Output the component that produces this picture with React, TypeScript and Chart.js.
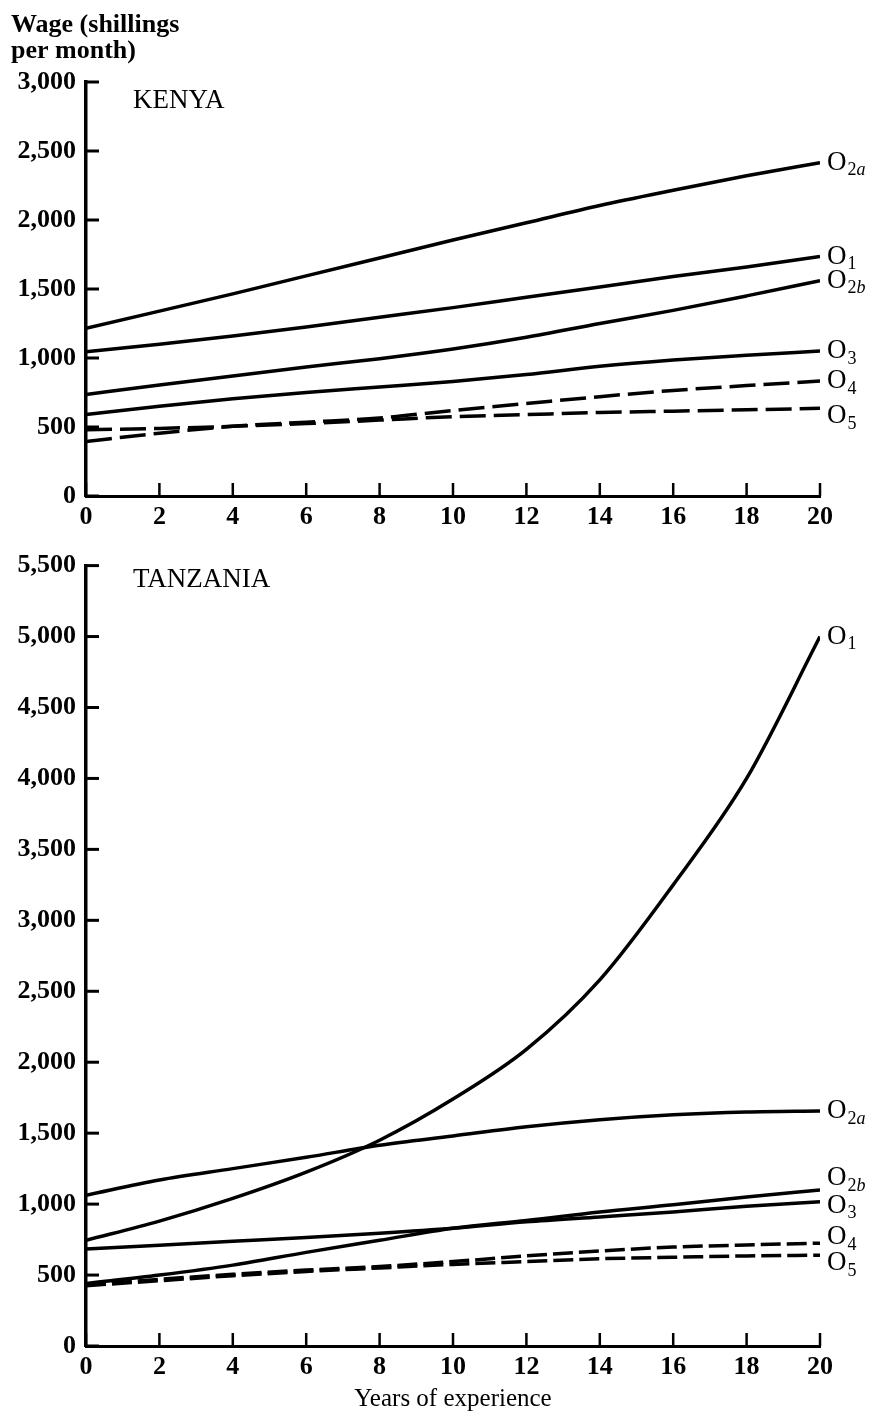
import React, { useEffect, useRef } from 'react';
import { Chart, registerables } from 'chart.js';

Chart.register(...registerables);

// ---------- data ----------
const years = [0, 2, 4, 6, 8, 10, 12, 14, 16, 18, 20];
const xTickValues = [0, 2, 4, 6, 8, 10, 12, 14, 16, 18, 20];

const kenyaYTicks = [0, 500, 1000, 1500, 2000, 2500, 3000];
const tanzaniaYTicks = [0, 500, 1000, 1500, 2000, 2500, 3000, 3500, 4000, 4500, 5000, 5500];

// Kenya (shillings per month)
const kenyaO2a = [1215, 1340, 1465, 1595, 1725, 1855, 1980, 2105, 2215, 2320, 2415];
const kenyaO1 = [1045, 1100, 1160, 1225, 1295, 1365, 1440, 1515, 1590, 1660, 1735];
const kenyaO2b = [735, 805, 870, 935, 995, 1065, 1150, 1250, 1345, 1450, 1560];
const kenyaO3 = [590, 650, 705, 750, 790, 830, 880, 940, 985, 1020, 1050];
const kenyaO4 = [395, 455, 505, 535, 565, 620, 670, 720, 765, 800, 833];
const kenyaO5 = [480, 490, 505, 525, 550, 575, 590, 605, 615, 625, 635];

// Tanzania (shillings per month)
const tanzaniaO1 = [745, 880, 1040, 1225, 1450, 1740, 2090, 2580, 3250, 4000, 5000];
const tanzaniaO2a = [1063, 1170, 1250, 1330, 1415, 1480, 1545, 1595, 1630, 1650, 1657];
const tanzaniaO2b = [440, 500, 570, 660, 745, 830, 885, 945, 995, 1050, 1099];
const tanzaniaO3 = [683, 710, 738, 765, 795, 830, 875, 910, 945, 985, 1017];
const tanzaniaO4 = [430, 470, 505, 535, 560, 595, 635, 670, 697, 712, 725];
const tanzaniaO5 = [425, 460, 495, 525, 550, 575, 595, 615, 625, 635, 640];

// ---------- styling ----------
const FONT = "'Liberation Serif', 'Times New Roman', serif";

type Series = { name: string; values: number[]; dashed: boolean; labelDy: number };

const kenyaSeries: Series[] = [
  { name: 'O2a', values: kenyaO2a, dashed: false, labelDy: 0 },
  { name: 'O1', values: kenyaO1, dashed: false, labelDy: 0 },
  { name: 'O2b', values: kenyaO2b, dashed: false, labelDy: 0 },
  { name: 'O3', values: kenyaO3, dashed: false, labelDy: 0 },
  { name: 'O4', values: kenyaO4, dashed: true, labelDy: 0 },
  { name: 'O5', values: kenyaO5, dashed: true, labelDy: 8 },
];

const tanzaniaSeries: Series[] = [
  { name: 'O1', values: tanzaniaO1, dashed: false, labelDy: 0 },
  { name: 'O2a', values: tanzaniaO2a, dashed: false, labelDy: 0 },
  { name: 'O2b', values: tanzaniaO2b, dashed: false, labelDy: -12 },
  { name: 'O3', values: tanzaniaO3, dashed: false, labelDy: 4 },
  { name: 'O4', values: tanzaniaO4, dashed: true, labelDy: -6 },
  { name: 'O5', values: tanzaniaO5, dashed: true, labelDy: 8 },
];

function fmt(v: number) {
  return String(v).replace(/\B(?=(\d{3})+(?!\d))/g, ',');
}

function drawLabel(ctx: CanvasRenderingContext2D, name: string, x: number, y: number) {
  const m = name.match(/^(O)(\d)([a-z]?)$/);
  if (!m) return;
  ctx.save();
  ctx.fillStyle = '#000';
  ctx.textBaseline = 'middle';
  ctx.textAlign = 'left';
  ctx.font = `27px ${FONT}`;
  ctx.fillText(m[1], x, y);
  let cx = x + ctx.measureText(m[1]).width + 1;
  ctx.font = `18px ${FONT}`;
  ctx.fillText(m[2], cx, y + 8);
  cx += ctx.measureText(m[2]).width;
  if (m[3]) {
    ctx.font = `italic 18px ${FONT}`;
    ctx.fillText(m[3], cx, y + 8);
  }
  ctx.restore();
}

function makeDecor(series: Series[], panelTitle: string, panelTitleY: number, showWage: boolean) {
  return {
    id: 'decor',
    afterDatasetsDraw(chart: any) {
      const ctx: CanvasRenderingContext2D = chart.ctx;
      series.forEach((s, i) => {
        const meta = chart.getDatasetMeta(i);
        const pt = meta.data[meta.data.length - 1];
        if (pt) drawLabel(ctx, s.name, pt.x + 7, pt.y + s.labelDy);
      });
    },
    afterDraw(chart: any) {
      const ctx: CanvasRenderingContext2D = chart.ctx;
      const { left, bottom } = chart.chartArea;
      const xs = chart.scales.x;
      const ys = chart.scales.y;
      ctx.save();
      ctx.strokeStyle = '#000';
      ctx.lineWidth = 3;
      ys.ticks.forEach((t: any) => {
        const py = ys.getPixelForValue(t.value);
        ctx.beginPath();
        ctx.moveTo(left, py);
        ctx.lineTo(left + 13, py);
        ctx.stroke();
      });
      ctx.lineWidth = 2.5;
      xs.ticks.forEach((t: any) => {
        const px = xs.getPixelForValue(t.value);
        ctx.beginPath();
        ctx.moveTo(px, bottom);
        ctx.lineTo(px, bottom - 13);
        ctx.stroke();
      });
      ctx.fillStyle = '#000';
      ctx.textAlign = 'left';
      ctx.textBaseline = 'alphabetic';
      ctx.font = `27px ${FONT}`;
      ctx.fillText(panelTitle, 133, panelTitleY);
      if (showWage) {
        ctx.font = `bold 26px ${FONT}`;
        ctx.fillText('Wage (shillings', 11, 32);
        ctx.fillText('per month)', 11, 58);
      }
      ctx.restore();
    },
  };
}

function buildConfig(
  series: Series[],
  yMax: number,
  yTicks: number[],
  padTop: number,
  xAxisHeight: number,
  dash: number[],
  showXTitle: boolean,
  plugin: any
) {
  return {
    type: 'line' as const,
    data: {
      datasets: series.map((s) => ({
        label: s.name,
        data: years.map((yr, i) => ({ x: yr, y: s.values[i] })),
        borderColor: '#000',
        borderWidth: 3.5,
        borderDash: s.dashed ? dash : [],
        pointRadius: 0,
        fill: false,
        cubicInterpolationMode: 'monotone' as const,
      })),
    },
    options: {
      animation: false as const,
      responsive: false,
      maintainAspectRatio: false,
      layout: { padding: { top: padTop, right: 57, left: 0, bottom: 0 } },
      plugins: { legend: { display: false }, tooltip: { enabled: false } },
      scales: {
        x: {
          type: 'linear' as const,
          min: 0,
          max: 20,
          afterBuildTicks: (scale: any) => {
            scale.ticks = xTickValues.map((v) => ({ value: v }));
          },
          afterFit: (scale: any) => {
            scale.height = xAxisHeight;
          },
          grid: { display: false, drawTicks: false },
          border: { display: true, color: '#000', width: 3 },
          ticks: {
            color: '#000',
            padding: 6,
            maxRotation: 0,
            autoSkip: false,
            font: { family: FONT, size: 26, weight: 'bold' as const },
            callback: (v: any) => String(v),
          },
          title: {
            display: showXTitle,
            text: 'Years of experience',
            color: '#000',
            font: { family: FONT, size: 25 },
            padding: { top: 0, bottom: 3 },
          },
        },
        y: {
          type: 'linear' as const,
          min: 0,
          max: yMax,
          afterBuildTicks: (scale: any) => {
            scale.ticks = yTicks.map((v) => ({ value: v }));
          },
          afterFit: (scale: any) => {
            scale.width = 86;
          },
          grid: { display: false, drawTicks: false },
          border: { display: true, color: '#000', width: 3.5 },
          ticks: {
            color: '#000',
            padding: 10,
            autoSkip: false,
            font: { family: FONT, size: 26, weight: 'bold' as const },
            callback: (v: any) => fmt(Number(v)),
          },
        },
      },
    },
    plugins: [plugin],
  };
}

function Panel(props: {
  series: Series[];
  yMax: number;
  yTicks: number[];
  height: number;
  padTop: number;
  xAxisHeight: number;
  dash: number[];
  showXTitle: boolean;
  title: string;
  titleY: number;
  showWage: boolean;
}) {
  const ref = useRef<HTMLCanvasElement | null>(null);
  useEffect(() => {
    if (!ref.current) return;
    const plugin = makeDecor(props.series, props.title, props.titleY, props.showWage);
    const chart = new Chart(
      ref.current,
      buildConfig(
        props.series,
        props.yMax,
        props.yTicks,
        props.padTop,
        props.xAxisHeight,
        props.dash,
        props.showXTitle,
        plugin
      ) as any
    );
    return () => chart.destroy();
  }, []);
  return (
    <canvas
      ref={ref}
      width={877}
      height={props.height}
      style={{ display: 'block', width: 877, height: props.height }}
    />
  );
}

export default function App() {
  return (
    <div
      style={{
        position: 'absolute',
        left: 0,
        top: 0,
        width: 877,
        height: 1417,
        background: '#fff',
        overflow: 'hidden',
      }}
    >
      <Panel
        series={kenyaSeries}
        yMax={3000}
        yTicks={kenyaYTicks}
        height={540}
        padTop={82}
        xAxisHeight={44}
        dash={[26, 8]}
        showXTitle={false}
        title="KENYA"
        titleY={108}
        showWage={true}
      />
      <Panel
        series={tanzaniaSeries}
        yMax={5500}
        yTicks={tanzaniaYTicks}
        height={877}
        padTop={25}
        xAxisHeight={71}
        dash={[20, 6]}
        showXTitle={true}
        title="TANZANIA"
        titleY={47}
        showWage={false}
      />
    </div>
  );
}
